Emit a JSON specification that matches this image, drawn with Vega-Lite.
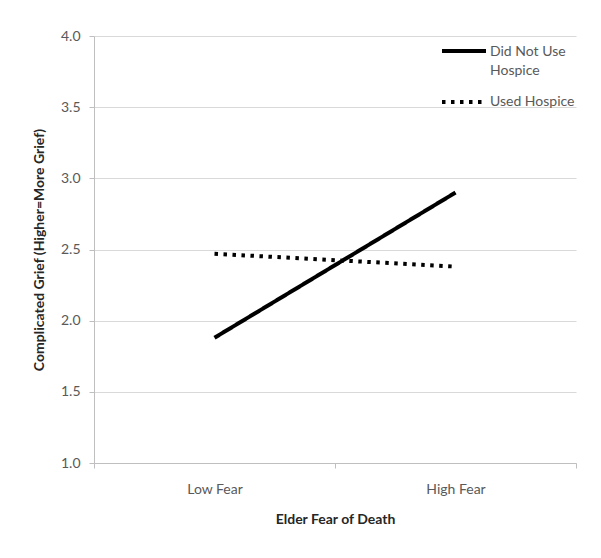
{
  "$schema": "https://vega.github.io/schema/vega-lite/v6.json",
  "autosize": {"type": "none"},
  "padding": {"left": 94, "top": 36, "right": 25, "bottom": 95},
  "width": 482,
  "height": 427,
  "background": "white",
  "config": {
    "font": "Lato",
    "view": {"stroke": null},
    "axis": {
      "labelFont": "Lato",
      "titleFont": "Lato",
      "labelFontSize": 14,
      "titleFontSize": 14,
      "labelColor": "#595959",
      "titleColor": "#262626",
      "titleFontWeight": "bold",
      "domainColor": "#bfbfbf",
      "tickColor": "#bfbfbf",
      "gridColor": "#d9d9d9",
      "tickSize": 5
    }
  },
  "data": {
    "values": [
      {"fear": "Low Fear", "group": "Did Not Use Hospice", "grief": 1.88},
      {"fear": "High Fear", "group": "Did Not Use Hospice", "grief": 2.90},
      {"fear": "Low Fear", "group": "Used Hospice", "grief": 2.47},
      {"fear": "High Fear", "group": "Used Hospice", "grief": 2.38}
    ]
  },
  "mark": {"type": "line", "color": "black", "strokeWidth": 4, "strokeCap": "butt"},
  "encoding": {
    "x": {
      "field": "fear",
      "type": "nominal",
      "sort": ["Low Fear", "High Fear"],
      "scale": {"paddingInner": 0, "paddingOuter": 0},
      "axis": {
        "title": "Elder Fear of Death",
        "labelAngle": 0,
        "tickBand": "extent",
        "labelPadding": 14,
        "titlePadding": 16,
        "grid": false
      }
    },
    "y": {
      "field": "grief",
      "type": "quantitative",
      "scale": {"domain": [1, 4], "nice": false, "zero": false},
      "axis": {
        "title": "Complicated Grief (Higher=More Grief)",
        "values": [1, 1.5, 2, 2.5, 3, 3.5, 4],
        "format": ".1f",
        "grid": true,
        "labelPadding": 9,
        "titlePadding": 14
      }
    },
    "detail": {"field": "group"},
    "strokeDash": {
      "field": "group",
      "type": "nominal",
      "scale": {
        "domain": ["Did Not Use Hospice", "Used Hospice"],
        "range": [[1, 0], [3.5, 5.5]]
      },
      "legend": {
        "title": null,
        "orient": "none",
        "legendX": 346,
        "legendY": -9,
        "padding": 0,
        "symbolType": "stroke",
        "symbolSize": 1936,
        "symbolStrokeWidth": 4,
        "symbolStrokeColor": "black",
        "labelFont": "Lato",
        "labelFontSize": 14,
        "labelColor": "#595959",
        "labelOffset": 2,
        "labelBaseline": "middle",
        "labelLimit": 200,
        "rowPadding": -5,
        "labelExpr": "datum.label == 'Did Not Use Hospice' ? ['Did Not Use', 'Hospice'] : datum.label",
        "encode": {
          "labels": {
            "update": {
              "dy": {"signal": "datum.label == 'Did Not Use Hospice' ? 1 : 0"},
              "lineHeight": {"value": 19}
            }
          }
        }
      }
    }
  }
}
